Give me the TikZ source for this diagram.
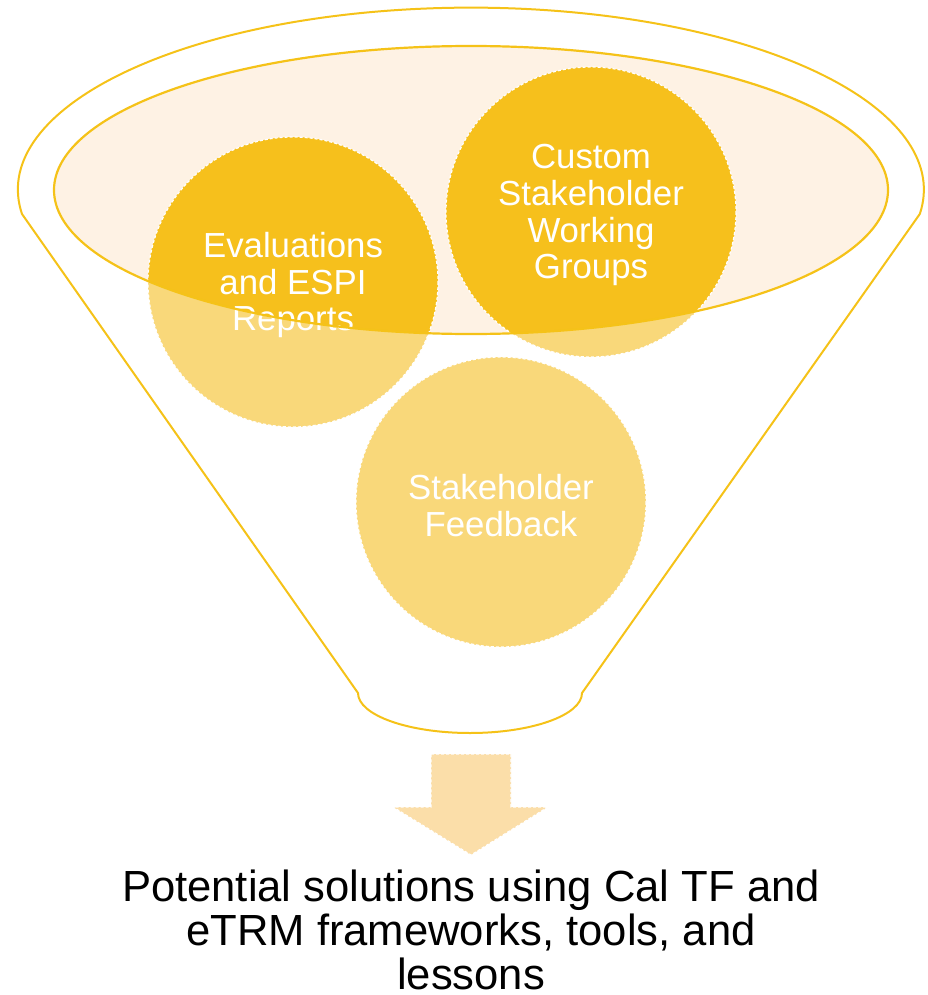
\documentclass[tikz,border=0pt]{standalone}
\usepackage{fontspec}
\setmainfont{Liberation Sans}

\definecolor{funnelline}{HTML}{F5C218}
\definecolor{peach}{HTML}{FEF2E4}
\definecolor{darkball}{HTML}{F6C01C}
\definecolor{lightball}{HTML}{F9D87A}
\definecolor{arrowfill}{HTML}{FBDEA9}

\tikzset{
  funnel/.style={draw=funnelline, line width=1pt},
  rim/.style={draw=funnelline, line width=1.1pt},
  ballline/.style={draw=white, line width=0.6pt, dash pattern=on 1.5pt off 1pt},
  balltext/.style={text=white, align=center, yshift=-1.6pt, font=\fontsize{17.4}{18.4}\selectfont},
  outtext/.style={text=black, align=center, font=\fontsize{21.8}{22.2}\selectfont}
}

\begin{document}
\begin{tikzpicture}[x=0.5pt, y=-0.5pt]

  \useasboundingbox (0,0) rectangle (927,995);

  \def\r{145};

	%funnel outline
  \draw[funnel] (22,214) arc[start angle=172.3, end angle=367.7, x radius=453, y radius=182]
     -- (582,693) arc[start angle=0, end angle=180, x radius=112, y radius=40] -- cycle;

	%top of the funnel
  \fill[peach] (471,190) ellipse [x radius=417, y radius=144];

	%balls
    \foreach \x/\y/\name in {293/282/eval, 591/212/custom, 501/502/feed}{
      \fill[lightball] (\x,\y) circle[radius=\r];
      \begin{scope}
        \clip (471,190) ellipse [x radius=417, y radius=144];
        \fill[darkball] (\x,\y) circle[radius=\r];
      \end{scope}
      \draw[ballline] (\x,\y) circle[radius=\r];
      \coordinate (\name) at (\x,\y);
    }

  \node[balltext] (evaltext) at (eval) {Evaluations\\and ESPI\\Reports};
  \node[balltext] (customtext) at (custom) {Custom\\Stakeholder\\Working\\Groups};
  \node[balltext] (feedtext) at (feed) {Stakeholder\\Feedback};

  \draw[rim] (471,190) ellipse [x radius=417, y radius=144];

	%arrow
  \fill[arrowfill] (431,754) -- (511,754) -- (511,807) -- (548,807) -- (471,855)
     -- (393,807) -- (431,807) -- cycle;
  \draw[ballline] (431,754) -- (511,754) -- (511,807) -- (548,807) -- (471,855)
     -- (393,807) -- (431,807) -- cycle;

  \node[outtext] (result) at (471,930) {Potential solutions using Cal TF and\\eTRM frameworks, tools, and\\lessons};

\end{tikzpicture}
\end{document}
